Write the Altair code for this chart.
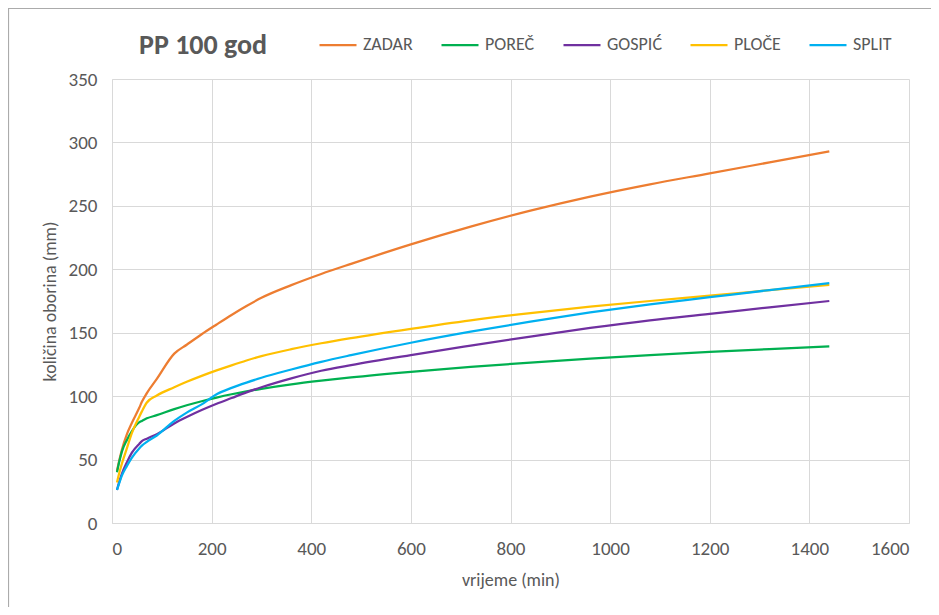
import altair as alt
import pandas as pd

# ---- data ----
minutes = [10, 15, 20, 30, 40, 55, 60, 70, 90, 125, 150, 180, 210, 240, 270, 300, 360,
           420, 480, 600, 720, 840, 960, 1080, 1200, 1320, 1440]
zadar = [41, 50, 58, 70, 79, 91, 95.5, 102.4, 113.6, 133.5, 140.5, 148.8, 156.5, 164, 171,
         177.5, 187.5, 196.3, 204.3, 219.6, 233.6, 246.2, 257.3, 267, 275.6, 284.3, 293]
porec = [40, 49, 56.5, 65.5, 72.5, 79.5, 80.5, 82.5, 85, 89.8, 92.8, 96, 98.9, 101.5, 103.8,
         105.8, 109.3, 112.2, 114.8, 119.2, 123, 126.5, 129.6, 132.4, 134.9, 137.1, 139.2]
gospic = [26, 33, 39, 48, 55.5, 62.5, 64.5, 66.5, 70, 78.5, 83.5, 89, 94, 98.5, 103,
          107, 114, 120, 124.5, 132.4, 139.8, 147, 153.8, 159.8, 164.8, 170, 175]
ploce = [32, 40, 47, 59, 71, 84, 88, 95, 100.5, 107, 111.3, 116, 120.3, 124.3, 128.1,
         131.5, 137, 141.7, 145.8, 153.1, 159.8, 165.5, 170.5, 175, 179.2, 183.5, 187.8]
split = [26, 32, 37.5, 45, 51.5, 59, 61, 64, 69, 80.5, 87, 93.5, 101.5, 106.5, 110.7,
         114.5, 121, 127, 132.3, 142.1, 150.8, 158.8, 166, 172.4, 178, 183.6, 189.1]

series_names = ["ZADAR", "POREČ", "GOSPIĆ", "PLOČE", "SPLIT"]
series_colors = ["#ED7D31", "#00B050", "#7030A0", "#FFC000", "#00B0F0"]
x_ticks = [0, 200, 400, 600, 800, 1000, 1200, 1400, 1600]
y_ticks = [0, 50, 100, 150, 200, 250, 300, 350]

title_text = "PP 100 god"
x_title = "vrijeme (min)"
y_title = "količina oborina (mm)"

rows = []
for name, vals in zip(series_names, [zadar, porec, gospic, ploce, split]):
    for t, v in zip(minutes, vals):
        rows.append({"vrijeme": t, "oborina": v, "postaja": name})
df = pd.DataFrame(rows)

FONT = "Calibri, Carlito, Lato, sans-serif"
TXT = "#595959"

lines = alt.Chart(df).mark_line(strokeWidth=2.25, interpolate="monotone").encode(
    x=alt.X("vrijeme:Q", title=x_title,
            scale=alt.Scale(domain=[0, 1600], nice=False),
            axis=alt.Axis(values=x_ticks, format="d", labelPadding=16, titlePadding=13)),
    y=alt.Y("oborina:Q", title=y_title,
            scale=alt.Scale(domain=[0, 350], nice=False),
            axis=alt.Axis(values=y_ticks, format="d", labelPadding=15, titlePadding=9)),
    color=alt.Color("postaja:N",
                    scale=alt.Scale(domain=series_names, range=series_colors),
                    sort=series_names,
                    legend=alt.Legend(title=None, orient="none", direction="horizontal",
                                      columns=5, legendX=206, legendY=-54,
                                      symbolType="stroke", symbolSize=1369,
                                      symbolStrokeWidth=2.25, labelOffset=5,
                                      columnPadding=24, labelFontSize=18,
                                      labelColor=TXT, labelFont=FONT)),
    order=alt.Order("vrijeme:Q"),
)

title_mark = alt.Chart(alt.Data(values=[{"t": title_text}])).mark_text(
    align="left", baseline="alphabetic", fontSize=28, fontWeight="bold",
    color=TXT, font=FONT
).encode(
    x=alt.value(27), y=alt.value(-25), text="t:N"
)

border = alt.Chart(alt.Data(values=[{"b": 1}])).mark_rect(
    fill="transparent", stroke="#ABABAB", strokeWidth=1.2
).encode(
    x=alt.value(-103.5), x2=alt.value(1200),
    y=alt.value(-70.5), y2=alt.value(900),
)

chart = alt.layer(border, lines, title_mark).properties(
    width=797,
    height=444,
    autosize=alt.AutoSizeParams(type="none"),
    padding={"left": 104, "top": 71, "right": 22, "bottom": 84},
).configure_axis(
    grid=True, gridColor="#D9D9D9", gridWidth=1,
    domainColor="#D9D9D9", domainWidth=1, ticks=False,
    labelFont=FONT, labelFontSize=19, labelColor=TXT,
    titleFont=FONT, titleFontSize=18, titleColor=TXT, titleFontWeight="normal",
).configure_view(strokeWidth=0)

chart.save("out.html", embed_options={"renderer": "svg", "actions": False})
